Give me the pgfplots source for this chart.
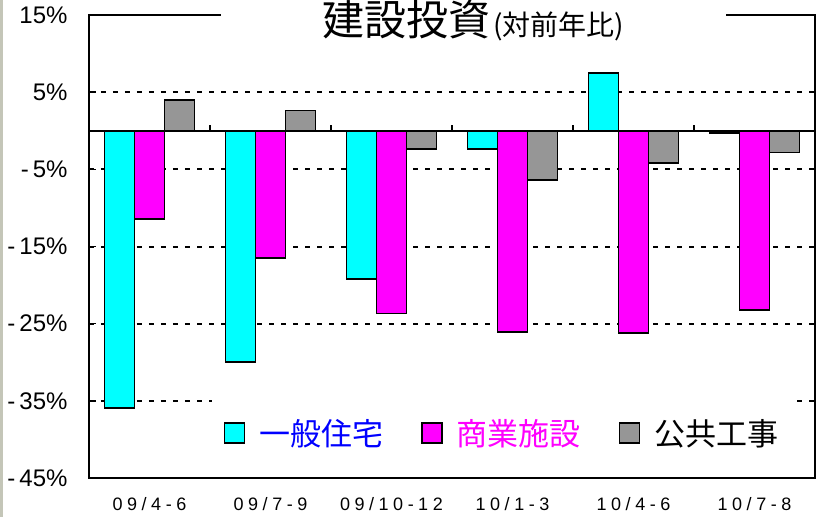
\documentclass[border=0pt]{standalone}
\usepackage{pgfplots}
\pgfplotsset{compat=1.18}
\usepackage{fontspec}
\setmainfont{Liberation Sans}
\newfontfamily\cjk{Noto Sans CJK JP}
\newfontfamily\xfont[LetterSpace=25]{Liberation Sans}

\definecolor{cyanbar}{RGB}{0,255,255}
\definecolor{magbar}{RGB}{255,0,255}
\definecolor{graybar}{RGB}{150,150,150}
\definecolor{legblue}{RGB}{0,0,255}
\definecolor{edgestrip}{RGB}{196,198,184}

\pgfplotsset{
  sqlegend/.style={legend image code/.code={
    \draw[##1,draw=black,line width=1.5pt] (0pt,-10pt) rectangle (20pt,10pt);
    \path (32pt,0pt);}},
}

\begin{document}
\begin{tikzpicture}
\useasboundingbox (0pt,0pt) rectangle (820pt,517pt);
\fill[edgestrip] (0pt,0pt) rectangle (3pt,517pt);
\begin{axis}[
  at={(89pt,39pt)}, anchor=south west,
  scale only axis, width=726pt, height=463pt,
  ybar=0pt, bar width=30pt,
  xmin=-0.5, xmax=5.5,
  ymin=-45, ymax=15,
  xtick={0,1,2,3,4,5},
  xticklabels={09/4-6,09/7-9,09/10-12,10/1-3,10/4-6,10/7-8},
  xtick style={draw=none},
  xticklabel style={font=\xfont\fontsize{18}{18}\selectfont, yshift=-16pt},
  ytick={-45,-35,-25,-15,-5,5,15},
  yticklabels={-\hspace{4pt}45\%,-\hspace{4pt}35\%,-\hspace{4pt}25\%,-\hspace{4pt}15\%,-\hspace{4pt}5\%,5\%,15\%},
  yticklabel style={font=\fontsize{24}{24}\selectfont, xshift=-18pt},
  ytick pos=left, tick align=inside,
  major tick length=7pt,
  tick style={black, line width=1.5pt},
  ymajorgrids,
  major grid style={black, line width=2pt, dash pattern=on 5pt off 7pt},
  extra y ticks={0}, extra y tick labels={},
  extra y tick style={grid=major, major tick length=0pt,
    major grid style={solid, black, line width=1.8pt}},
  axis line style={black, line width=2pt},
  legend columns=3,
  legend style={at={(0.169,0.097)}, anchor=west, draw=none, fill=white,
    inner xsep=12pt, inner ysep=22pt,
    font=\cjk\fontsize{31}{34}\selectfont,
    /tikz/every even column/.append style={column sep=36pt}},
]
\addplot[sqlegend, fill=cyanbar, draw=black, line width=1.6pt] coordinates {
  (0,-35.9) (1,-30.0) (2,-19.2) (3,-2.4) (4,7.5) (5,-0.3)};
\addplot[sqlegend, fill=magbar, draw=black, line width=1.6pt] coordinates {
  (0,-11.4) (1,-16.5) (2,-23.7) (3,-26.1) (4,-26.2) (5,-23.2)};
\addplot[sqlegend, fill=graybar, draw=black, line width=1.6pt] coordinates {
  (0,4.0) (1,2.6) (2,-2.4) (3,-6.4) (4,-4.2) (5,-2.8)};
\legend{\textcolor{legblue}{一般住宅},\textcolor{magbar}{商業施設},公共工事\hspace{20pt}}
\pgfplotsinvokeforeach{0.5,1.5,2.5,3.5,4.5}{
  \draw[black, line width=1.5pt] (axis cs:#1,0) -- ++(0pt,6pt);}
\end{axis}
\node[anchor=north, fill=white, inner sep=0pt, minimum width=505pt]
  at (473pt,517pt)
  {{\cjk\fontsize{42}{42}\selectfont 建設投資}\hspace{3pt}{\cjk\fontsize{28}{28}\selectfont (対前年比)}};
\end{tikzpicture}
\end{document}
